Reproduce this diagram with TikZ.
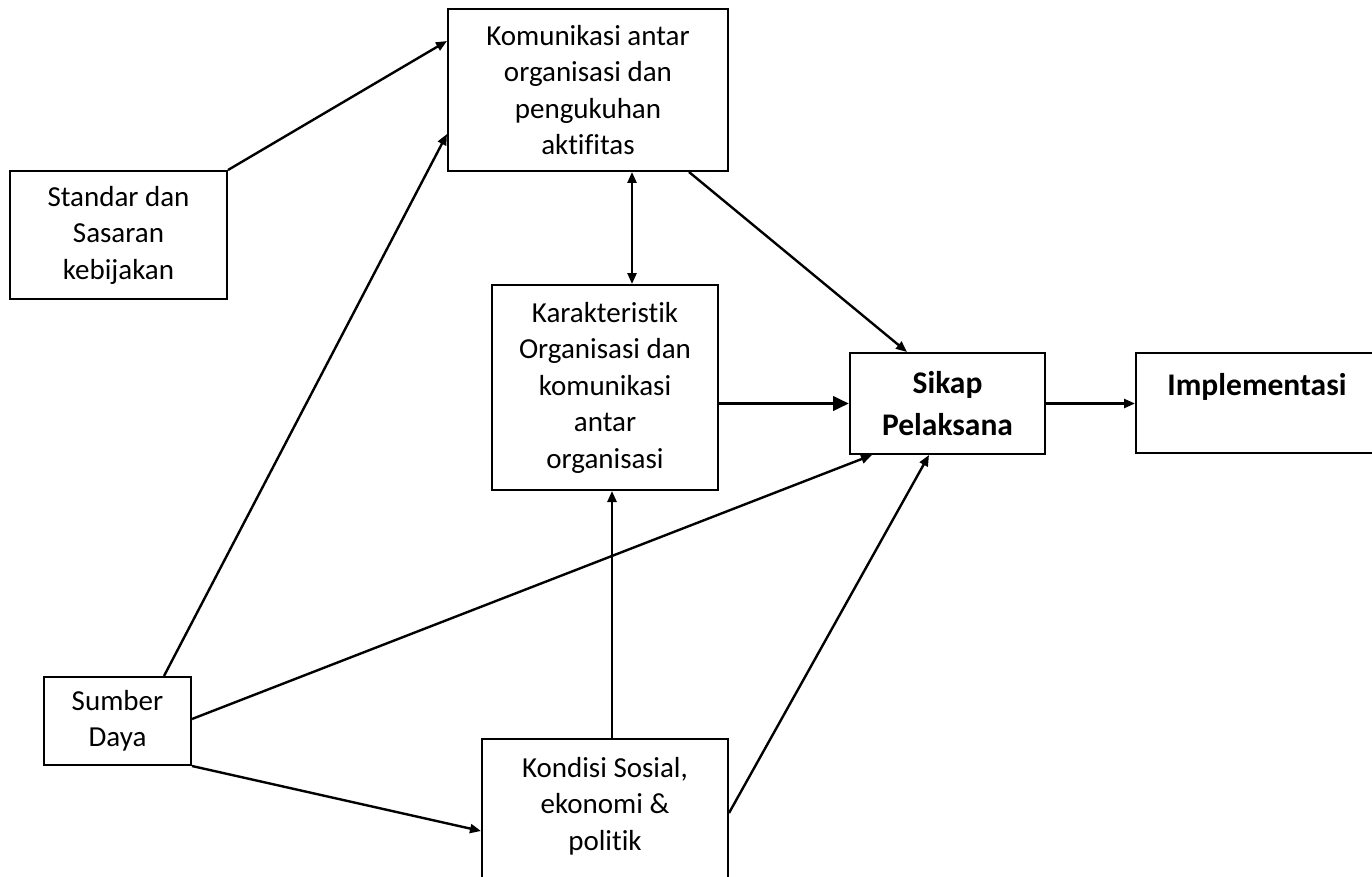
\documentclass[tikz,border=0pt]{standalone}
\usepackage{fontspec}
\setmainfont{Carlito}[Ligatures={NoCommon}]
\usetikzlibrary{arrows.meta,calc}
\begin{document}
\begin{tikzpicture}[x=1pt,y=-1pt,
  box/.style={draw,line width=2pt,rectangle,inner sep=0pt,align=center,
    font=\fontsize{29}{36.5}\selectfont},
  boldbox/.style={box,font=\fontsize{31.5}{42}\selectfont\bfseries},
  plainlbl/.style={inner sep=0pt,align=center,font=\fontsize{29}{36.5}\selectfont},
  boldlbl/.style={inner sep=0pt,align=center,font=\fontsize{31.5}{42}\selectfont\bfseries},
  conn/.style={line width=2.4pt,-{Triangle[length=11pt,width=9pt]}},
  thickconn/.style={line width=3.8pt,-{Triangle[length=16pt,width=14pt]}},
  dbl/.style={line width=2.4pt,{Triangle[length=11pt,width=9pt]}-{Triangle[length=11pt,width=9pt]}}
]
\useasboundingbox[fill=white] (0,0) rectangle (1372,877);

\node[box,minimum width=280pt,minimum height=162pt] (kom) at (588,90)
  {Komunikasi antar\\organisasi dan\\pengukuhan\\aktifitas};
\node[box,minimum width=217pt,minimum height=128pt] (std) at (118.5,235)
  {Standar dan\\Sasaran\\kebijakan};
\node[box,minimum width=226pt,minimum height=205pt] (kar) at (605,387.5)
  {Karakteristik\\Organisasi dan\\komunikasi\\antar\\organisasi};
\node[boldbox,minimum width=195pt,minimum height=101pt] (sik) at (947.5,403.5)
  {Sikap\\Pelaksana};
\node[box,minimum width=242pt,minimum height=100pt] (imp) at (1257,403) {};
\node[boldlbl,anchor=north] (imptext) at ([yshift=-21pt]imp.north) {Implementasi};
\node[box,minimum width=147pt,minimum height=88pt] (sum) at (117.5,721)
  {Sumber\\Daya};
\node[box,minimum width=246pt,minimum height=161pt] (kon) at (605,819.5) {};
\node[plainlbl,anchor=north] (kontext) at ([yshift=-19pt]kon.north)
  {Kondisi Sosial,\\ekonomi \&\\politik};

% connectors
\draw[conn] (std.north east) -- ([yshift=-33pt]kom.north west);
\draw[conn] ([xshift=46.5pt]sum.north) -- ([yshift=38pt]kom.south west);
\draw[conn] ([xshift=-40pt]kom.south east) -- ([xshift=58pt]sik.north west);
\draw[dbl] ($(kar.north)+(27pt,0pt)$) -- ($(kar.north|-kom.south)+(27pt,0pt)$);
\draw[thickconn] (sik.west -| kar.east) -- (sik.west);
\draw[conn] (sik.east) -- (imp.west |- sik.east);
\draw[conn] ([yshift=2pt]sum.east) -- ([xshift=23pt]sik.south west);
\draw[conn] (sum.south east) -- ([yshift=-93pt]kon.north west);
\draw[conn] ([xshift=7pt]kon.north) -- ([xshift=7pt]kar.south);
\draw[conn] ([yshift=-75pt]kon.north east) -- ([xshift=80pt]sik.south west);
\end{tikzpicture}
\end{document}
